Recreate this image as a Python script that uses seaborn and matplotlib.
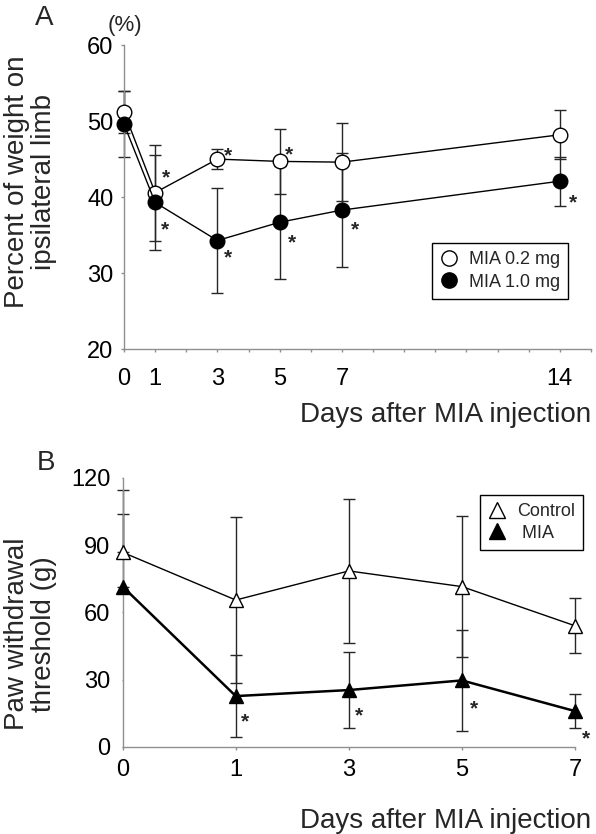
import numpy as np
import pandas as pd
import matplotlib
matplotlib.use('Agg')
import matplotlib.pyplot as plt
from matplotlib.lines import Line2D
import seaborn as sns

# Panel A - weight bearing (mean, error) per day
days_a = [0, 1, 3, 5, 7, 14]
low_mean = [51.2, 40.6, 45.0, 44.7, 44.6, 48.2]
low_err = [2.8, 6.3, 1.3, 4.3, 5.1, 3.2]
high_mean = [49.6, 39.3, 34.3, 36.7, 38.3, 42.1]
high_err = [4.3, 6.2, 6.9, 7.4, 7.5, 3.2]
low_sig = [False, True, True, True, False, False]
high_sig = [False, True, True, True, True, True]
labels_a = ['MIA 0.2 mg', 'MIA 1.0 mg']

# Panel B - paw withdrawal threshold (lower bars not shown on day 0)
days_b = ['0', '1', '3', '5', '7']
ctrl_mean = [86.8, 65.5, 78.5, 71.5, 54.0]
ctrl_err_up = [28.0, 37.2, 32.0, 31.5, 12.3]
ctrl_err_low = [0.0, 37.2, 32.0, 31.5, 12.3]
mia_mean = [71.5, 22.6, 25.3, 29.6, 15.9]
mia_err_up = [32.3, 18.2, 17.0, 22.5, 7.5]
mia_err_low = [0.0, 18.2, 17.0, 22.5, 7.5]
mia_sig = [False, True, True, True, True]
labels_b = ['Control', ' MIA']

sns.set_style('white')
plt.rcParams['font.family'] = ['Liberation Sans', 'DejaVu Sans']

W, H = 596, 834
fig = plt.figure(figsize=(W / 100, H / 100), dpi=100)

axis_grey = '#8f8f8f'
bar_col = '#262626'
tick_fs = 17


def style_axes(ax):
    sns.despine(ax=ax)
    for side in ['left', 'bottom']:
        ax.spines[side].set_color(axis_grey)
        ax.spines[side].set_linewidth(1.0)


def add_stars(ax, xs, ys, flags, offsets, fs=15):
    k = 0
    for x, y, f in zip(xs, ys, flags):
        if not f:
            continue
        dx, dy = offsets[k]
        k += 1
        ax.annotate('*', xy=(x, y), xytext=(dx, dy - 0.58 * fs), textcoords='offset points',
                    ha='center', va='baseline', fontsize=fs, fontweight='bold', annotation_clip=False)


# ---------------- Panel A ----------------
ax_a = fig.add_axes([124 / W, 1 - 349.3 / H, (591 - 124) / W, (349.3 - 45) / H])
df_a = pd.DataFrame({'day': days_a, 'low': low_mean, 'high': high_mean})

ax_a.errorbar(days_a, low_mean, yerr=low_err, fmt='none', ecolor=bar_col, elinewidth=1,
              capsize=4, capthick=1, clip_on=False, zorder=1)
ax_a.errorbar(days_a, high_mean, yerr=high_err, fmt='none', ecolor=bar_col, elinewidth=1,
              capsize=4, capthick=1, clip_on=False, zorder=1)
sns.lineplot(data=df_a, x='day', y='low', ax=ax_a, color='black', lw=1.0, marker='o', ms=10.5,
             mfc='white', mec='black', mew=1.0, clip_on=False, zorder=3)
sns.lineplot(data=df_a, x='day', y='high', ax=ax_a, color='black', lw=1.0, marker='o', ms=10.5,
             mfc='black', mec='black', mew=1.0, clip_on=False, zorder=4)

ax_a.set_xlim(0, 15)
ax_a.set_ylim(20, 60)
ax_a.set_yticks([20, 30, 40, 50, 60])
ax_a.set_xticks(range(16))
ax_a.set_xticklabels([str(d) if d in days_a else '' for d in range(16)])
ax_a.tick_params(axis='both', colors=axis_grey, labelcolor='black', labelsize=tick_fs, length=2.5,
                 width=1, direction='out', left=True, bottom=True)
ax_a.tick_params(axis='x', pad=11)
ax_a.tick_params(axis='y', pad=5)
ax_a.set_xlabel('')
ax_a.set_ylabel('')
style_axes(ax_a)

add_stars(ax_a, days_a, low_mean, low_sig, [(7.9, 15.1), (7.9, 7.2), (6.5, 9.4)])
add_stars(ax_a, days_a, high_mean, high_sig,
          [(7.2, -14.9), (7.7, -8.1), (8.6, -10.1), (9.6, -9.4), (9.1, -10.8)])

handles_a = [Line2D([], [], ls='none', marker='o', ms=11, mfc='white', mec='black', mew=1),
             Line2D([], [], ls='none', marker='o', ms=11, mfc='black', mec='black', mew=1)]
leg_a = ax_a.legend(handles_a, labels_a, loc='upper left', bbox_to_anchor=(432 / W, 1 - 243 / H),
                    bbox_transform=fig.transFigure, frameon=True, fancybox=False, edgecolor='black',
                    framealpha=1, fontsize=13, handlelength=1.0, handletextpad=0.6, borderpad=0.45,
                    labelspacing=0.3, borderaxespad=0)
leg_a.get_frame().set_linewidth(1.0)

# ---------------- Panel B ----------------
ax_b = fig.add_axes([122.7 / W, 1 - 746.7 / H, (575 - 122.7) / W, (746.7 - 478) / H])
pos_b = np.arange(len(days_b))
df_b = pd.DataFrame({'pos': pos_b, 'ctrl': ctrl_mean, 'mia': mia_mean})

ax_b.errorbar(pos_b, ctrl_mean, yerr=[ctrl_err_low, ctrl_err_up], fmt='none', ecolor=bar_col,
              elinewidth=1, capsize=4, capthick=1, clip_on=False, zorder=1)
ax_b.errorbar(pos_b, mia_mean, yerr=[mia_err_low, mia_err_up], fmt='none', ecolor=bar_col,
              elinewidth=1, capsize=4, capthick=1, clip_on=False, zorder=1)
sns.lineplot(data=df_b, x='pos', y='ctrl', ax=ax_b, color='black', lw=1.0, marker='^', ms=10,
             mfc='white', mec='black', mew=1.0, clip_on=False, zorder=3)
sns.lineplot(data=df_b, x='pos', y='mia', ax=ax_b, color='black', lw=1.8, marker='^', ms=10,
             mfc='black', mec='black', mew=1.0, clip_on=False, zorder=4)

ax_b.set_xlim(0, len(days_b) - 1)
ax_b.set_ylim(0, 120)
ax_b.set_yticks([0, 30, 60, 90, 120])
ax_b.set_xticks(pos_b)
ax_b.set_xticklabels(days_b)
ax_b.tick_params(axis='both', colors=axis_grey, labelcolor='black', labelsize=tick_fs, width=1,
                 direction='out', left=True, bottom=True)
ax_b.tick_params(axis='x', length=2, pad=7)
ax_b.tick_params(axis='y', length=1, pad=8)
ax_b.set_xlabel('')
ax_b.set_ylabel('')
style_axes(ax_b)

add_stars(ax_b, pos_b, mia_mean, mia_sig, [(6.8, -13.7), (7.2, -13.9), (8.4, -15.8), (7.6, -15.1)])

handles_b = [Line2D([], [], ls='none', marker='^', ms=11, mfc='white', mec='black', mew=1),
             Line2D([], [], ls='none', marker='^', ms=11, mfc='black', mec='black', mew=1)]
leg_b = ax_b.legend(handles_b, labels_b, loc='upper left', bbox_to_anchor=(480 / W, 1 - 495 / H),
                    bbox_transform=fig.transFigure, frameon=True, fancybox=False, edgecolor='black',
                    framealpha=1, fontsize=13, handlelength=1.0, handletextpad=0.6, borderpad=0.45,
                    labelspacing=0.25, borderaxespad=0)
leg_b.get_frame().set_linewidth(1.0)

# ---------------- figure texts ----------------
fig.text(35 / W, 1 - 25 / H, 'A', fontsize=20, ha='left', va='baseline')
fig.text(37 / W, 1 - 470 / H, 'B', fontsize=20, ha='left', va='baseline')
fig.text(124.7 / W, 1 - 31 / H, '(%)', fontsize=16, ha='center', va='baseline')
fig.text(31 / W, 1 - 182 / H, 'Percent of weight on\nipsilateral limb', rotation=90, fontsize=20,
         ha='center', va='center', multialignment='center', linespacing=1.05)
fig.text(31 / W, 1 - 634 / H, 'Paw withdrawal\nthreshold (g)', rotation=90, fontsize=20,
         ha='center', va='center', multialignment='center', linespacing=1.05)
fig.text(300 / W, 1 - 422 / H, 'Days after MIA injection', fontsize=20, ha='left', va='baseline')
fig.text(300 / W, 1 - 828 / H, 'Days after MIA injection', fontsize=20, ha='left', va='baseline')

fig.savefig('out.png', dpi=100)
